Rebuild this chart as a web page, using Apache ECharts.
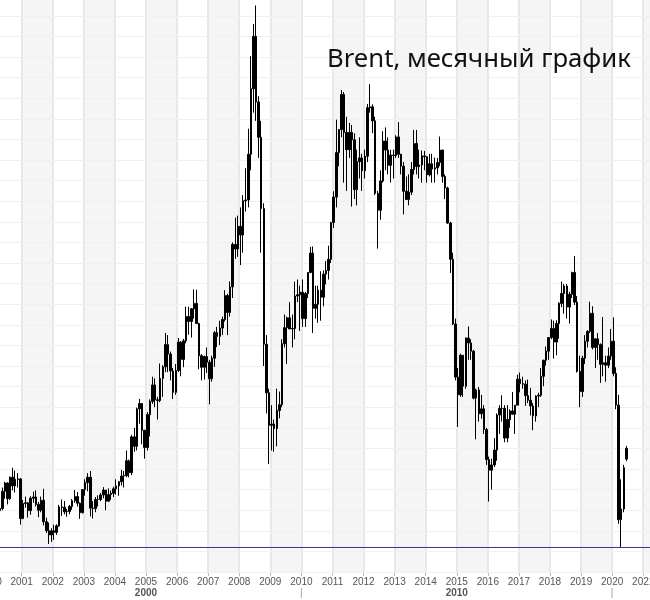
<!DOCTYPE html>
<html><head><meta charset="utf-8">
<script src="https://cdn.jsdelivr.net/npm/echarts@6/dist/echarts.min.js"></script>
<style>html,body{margin:0;padding:0;background:#fff}#c{width:650px;height:600px}</style>
</head><body><div id="c"></div>
<script>
// Brent monthly candles, each entry [open, close, low, high]
const brent2000 = [[24.5,27.6,23.2,28.0],[27.6,29.6,26.8,30.5],[29.6,24.9,24.0,32.2],[24.9,25.4,21.9,25.9],[25.4,29.6,25.0,30.5],[29.6,31.6,27.8,31.9],[31.6,27.8,26.4,31.8],[27.8,33.0,27.5,33.2],[33.0,30.9,29.8,35.3],[30.9,32.5,29.3,34.6],[32.5,32.6,30.5,34.0],[32.6,23.0,21.5,32.8]];
const brent2001 = [[23.0,26.6,22.8,27.5],[26.6,26.8,25.6,28.3],[26.8,24.9,23.2,27.0],[24.9,27.9,23.9,28.4],[27.9,28.2,26.8,29.5],[28.2,26.4,25.9,29.8],[26.4,25.0,23.3,27.0],[25.0,27.4,24.5,28.3],[27.4,22.2,21.3,30.2],[22.2,20.0,19.5,23.2],[20.0,19.0,16.8,22.0],[19.0,20.0,17.3,20.6]];
const brent2002 = [[20.0,19.6,17.8,21.5],[19.6,21.2,19.0,21.6],[21.2,25.8,21.0,26.3],[25.8,25.7,23.6,27.6],[25.7,24.6,24.0,27.2],[24.6,24.7,23.4,25.3],[24.7,25.9,24.0,26.3],[25.9,27.3,25.1,27.7],[27.3,28.3,26.8,29.9],[28.3,26.7,25.9,29.4],[26.7,24.4,22.9,26.9],[24.4,30.0,24.2,30.0]];
const brent2003 = [[30.0,31.7,28.5,32.5],[31.7,33.0,29.6,34.0],[33.0,25.5,23.5,34.5],[25.5,25.4,23.0,27.2],[25.4,27.6,24.5,28.2],[27.6,27.6,25.9,28.6],[27.6,28.7,27.2,29.2],[28.7,29.9,27.9,30.6],[29.9,27.2,25.0,29.9],[27.2,28.8,27.0,30.3],[28.8,29.1,27.5,29.8],[29.1,30.2,28.2,30.7]];
const brent2004 = [[30.2,30.9,28.8,32.5],[30.9,31.9,28.5,32.1],[31.9,33.3,31.0,34.8],[33.3,33.4,30.5,34.5],[33.4,37.0,33.0,39.5],[37.0,34.1,33.0,37.3],[34.1,42.8,33.5,43.3],[42.8,40.5,39.2,45.0],[40.5,49.6,39.5,49.9],[49.6,50.9,46.0,52.0],[50.9,44.4,41.0,51.0],[44.4,40.2,37.5,44.5]];
const brent2005 = [[40.2,48.2,39.5,48.8],[48.2,51.4,42.9,51.9],[51.4,55.4,50.8,57.4],[55.4,51.8,50.0,57.0],[51.8,51.6,47.0,52.5],[51.6,57.0,51.2,60.6],[57.0,59.8,52.5,60.2],[59.8,65.2,58.5,68.0],[65.2,62.9,58.5,67.5],[62.9,58.8,56.5,63.5],[58.8,53.6,52.0,59.5],[53.6,58.9,53.0,60.5]];
const brent2006 = [[58.9,65.8,58.5,66.8],[65.8,61.6,57.5,66.0],[61.6,66.1,59.7,66.6],[66.1,72.0,65.5,74.4],[72.0,70.8,67.6,74.4],[70.8,73.9,66.9,74.0],[73.9,75.2,71.5,78.6],[75.2,70.3,70.2,78.5],[70.3,62.5,59.2,70.5],[62.5,59.7,56.5,62.9],[59.7,62.3,56.7,62.5],[62.3,60.9,58.3,64.5]];
const brent2007 = [[60.9,56.9,50.7,61.5],[56.9,61.9,56.2,62.5],[61.9,68.1,59.8,68.5],[68.1,67.2,64.6,69.5],[67.2,69.2,65.1,71.0],[69.2,71.3,67.5,72.0],[71.3,77.1,70.8,78.4],[77.1,73.0,67.5,77.5],[73.0,79.2,72.0,80.5],[79.2,89.5,76.5,90.0],[89.5,88.4,86.0,96.0],[88.4,93.9,86.5,96.5]];
const brent2008 = [[93.9,91.8,84.5,98.5],[91.8,100.1,87.5,101.5],[100.1,100.3,97.5,108.0],[100.3,111.4,98.5,117.6],[111.4,127.3,107.5,135.2],[127.3,140.0,121.5,143.0],[140.0,124.1,119.5,147.5],[124.1,115.5,110.5,125.5],[115.5,98.2,87.5,119.5],[98.2,65.3,60.0,99.5],[65.3,53.5,48.5,67.5],[53.5,45.6,36.2,54.5]];
const brent2009 = [[45.6,45.9,39.5,50.5],[45.9,44.8,39.2,47.0],[44.8,49.2,40.5,54.5],[49.2,50.6,47.3,53.8],[50.6,65.4,50.0,66.5],[65.4,69.3,64.5,72.5],[69.3,71.7,60.5,72.0],[71.7,69.0,69.0,75.5],[69.0,69.1,64.5,72.5],[69.1,77.0,66.5,80.5],[77.0,77.3,75.5,81.0],[77.3,77.9,68.5,79.5]];
const brent2010 = [[77.9,71.5,69.5,81.0],[71.5,77.6,69.5,78.0],[77.6,82.7,76.5,82.7],[82.7,87.4,82.5,88.9],[87.4,74.0,68.0,89.0],[74.0,75.0,71.5,79.5],[75.0,78.4,70.5,79.5],[78.4,76.7,71.0,83.0],[76.7,82.3,74.5,83.2],[82.3,83.2,79.8,85.5],[83.2,85.9,81.0,89.2],[85.9,94.8,85.0,95.0]];
const brent2011 = [[94.8,101.0,93.5,102.4],[101.0,111.8,98.5,119.8],[111.8,117.4,108.5,117.5],[117.4,125.9,115.5,127.0],[125.9,116.7,104.5,126.5],[116.7,112.5,102.5,120.5],[112.5,116.7,110.5,119.0],[116.7,114.9,98.7,118.5],[114.9,102.8,100.5,116.5],[102.8,109.6,99.0,112.5],[109.6,110.5,105.5,115.5],[110.5,107.4,102.5,111.5]];
const brent2012 = [[107.4,110.9,105.5,112.5],[110.9,122.7,109.5,123.6],[122.7,122.9,121.5,128.4],[122.9,119.5,116.5,123.5],[119.5,101.9,101.5,120.5],[101.9,97.8,88.5,102.5],[97.8,104.9,95.5,107.5],[104.9,114.6,104.5,117.0],[114.6,112.4,107.5,117.9],[112.4,108.7,106.5,115.5],[108.7,111.2,104.5,112.5],[111.2,111.1,105.5,112.5]];
const brent2013 = [[111.1,115.6,110.5,116.0],[115.6,111.4,110.5,119.2],[111.4,108.5,106.5,111.5],[108.5,102.4,96.8,109.5],[102.4,100.4,100.5,106.0],[100.4,102.2,99.0,106.5],[102.2,107.7,101.5,109.5],[107.7,114.0,106.5,117.3],[114.0,108.4,106.5,117.3],[108.4,108.8,105.5,112.5],[108.8,111.0,104.5,112.3],[111.0,110.8,107.5,112.2]];
const brent2014 = [[110.8,106.4,104.5,110.9],[106.4,109.1,106.0,111.5],[109.1,107.8,104.5,111.5],[107.8,108.1,104.5,110.6],[108.1,109.4,106.5,110.5],[109.4,112.4,108.5,115.7],[112.4,106.0,104.5,112.5],[106.0,103.2,100.5,106.5],[103.2,94.7,94.5,103.5],[94.7,85.9,82.6,95.0],[85.9,70.2,70.0,87.5],[70.2,57.3,56.5,71.5]];
const brent2015 = [[57.3,53.0,45.2,59.5],[53.0,62.6,52.5,63.0],[62.6,55.1,52.5,62.7],[55.1,66.8,54.5,66.9],[66.8,65.6,61.5,69.6],[65.6,63.6,61.5,66.5],[63.6,52.2,51.9,63.9],[52.2,54.2,42.2,54.5],[54.2,48.4,46.5,54.9],[48.4,49.6,47.2,53.0],[49.6,44.6,43.5,50.5],[44.6,37.3,36.0,45.0]];
const brent2016 = [[37.3,34.7,27.1,38.0],[34.7,36.0,30.0,37.5],[36.0,39.6,35.5,42.5],[39.6,48.1,37.0,48.5],[48.1,49.7,43.5,50.5],[49.7,49.7,46.5,52.9],[49.7,42.5,41.5,50.5],[42.5,47.0,41.5,50.5],[47.0,49.1,45.0,49.5],[49.1,48.3,48.5,53.7],[48.3,50.5,43.5,50.5],[50.5,56.8,50.5,57.9]];
const brent2017 = [[56.8,55.7,53.6,58.4],[55.7,55.6,54.5,57.4],[55.6,52.8,50.3,56.5],[52.8,51.7,51.0,56.7],[51.7,50.3,48.0,54.7],[50.3,47.9,44.4,51.0],[47.9,52.7,46.5,52.9],[52.7,52.9,50.0,53.5],[52.9,57.5,52.5,59.5],[57.5,61.4,55.1,61.5],[61.4,63.6,60.1,64.7],[63.6,66.9,61.5,67.0]];
const brent2018 = [[66.9,69.1,66.5,71.3],[69.1,65.8,61.8,71.0],[65.8,70.3,62.6,71.1],[70.3,75.2,66.6,75.5],[75.2,77.6,74.3,80.5],[77.6,79.4,72.7,79.9],[79.4,74.3,71.5,79.9],[74.3,77.4,70.3,78.0],[77.4,82.7,76.5,82.9],[82.7,75.5,74.8,86.7],[75.5,58.7,58.4,77.0],[58.7,53.8,50.0,62.5]];
const brent2019 = [[53.8,61.9,52.5,62.5],[61.9,66.0,60.5,67.5],[66.0,68.4,64.5,68.7],[68.4,72.8,68.0,75.6],[72.8,64.5,64.0,74.5],[64.5,66.6,59.5,66.5],[66.6,65.2,61.5,68.0],[65.2,60.4,55.9,65.5],[60.4,60.8,57.5,71.9],[60.8,60.2,56.2,62.5],[60.2,62.4,59.5,64.5],[62.4,66.0,61.5,69.0]];
const brent2020 = [[66.0,58.2,57.5,71.8],[58.2,50.5,49.5,59.7],[50.5,22.7,21.7,53.0],[22.7,25.3,16.0,32.5],[25.3,35.3,24.5,36.0],[37.4,40.0,36.9,40.6]];
const allYears = [brent2000,brent2001,brent2002,brent2003,brent2004,brent2005,brent2006,brent2007,brent2008,brent2009,brent2010,brent2011,brent2012,brent2013,brent2014,brent2015,brent2016,brent2017,brent2018,brent2019,brent2020];

const firstYear = 2000, lastYear = 2021, lastMonthOfAxis = 3; // axis runs Jan 2000 .. Mar 2021
const axisStartYear = 2000, axisEndYear = 2021.25;
const decadeLabels = {2005: '2000', 2015: '2010'};
const decadeMarks = [2010, 2020];
const lowLine = 15.95; // blue horizontal line level (2020 low)
const titleText = 'Brent, месячный график';

const months = [];
for (let y = firstYear; y <= lastYear; y++) {
  for (let m = 1; m <= 12; m++) {
    if (y === lastYear && m > lastMonthOfAxis) break;
    months.push(y + '-' + (m < 10 ? '0' + m : m));
  }
}
const candles = [].concat(...allYears);
while (candles.length < months.length) candles.push('-');

const chart = echarts.init(document.getElementById('c'), null, {renderer: 'canvas'});
chart.setOption({
  animation: false,
  backgroundColor: '#fff',
  title: {
    text: titleText, left: 327, top: 47, padding: 0,
    textStyle: {fontFamily: 'Noto Sans', fontSize: 25.7, fontWeight: 'normal', color: '#111'}
  },
  grid: {left: -9.4, top: -4.8, width: 660.4, height: 576.8, containLabel: false, outerBoundsMode: 'none'},
  xAxis: [
    {type: 'category', data: months, boundaryGap: true, show: false, position: 'bottom'},
    {type: 'value', min: axisStartYear, max: axisEndYear, interval: 1, position: 'bottom', z: 0,
     axisLine: {show: false},
     axisTick: {show: true, length: 4, lineStyle: {color: '#bbb'}},
     axisLabel: {
       margin: 5, fontFamily: 'Liberation Sans', fontSize: 10, color: '#555',
       formatter: function (v) {
         let s = '{y|' + v + '}';
         if (decadeLabels[v]) s += '\n{d|' + decadeLabels[v] + '}';
         else if (decadeMarks.indexOf(v) >= 0) s += '\n{s||}';
         return s;
       },
       rich: {
         y: {fontFamily: 'Liberation Sans', fontSize: 10, color: '#555', lineHeight: 11},
         d: {fontFamily: 'Liberation Sans', fontSize: 10, fontWeight: 'bold', color: '#555', lineHeight: 11},
         s: {fontFamily: 'Liberation Sans', fontSize: 10, color: '#999', lineHeight: 11}
       }
     },
     splitLine: {show: true, lineStyle: {color: '#e8e8e8', width: 2}},
     splitArea: {show: true, areaStyle: {color: ['rgba(255,255,255,0)', '#f5f5f5']}}
    }
  ],
  yAxis: {type: 'value', min: 10, max: 150, interval: 5, z: 1,
    axisLine: {show: false}, axisTick: {show: false}, axisLabel: {show: false},
    splitLine: {show: true, lineStyle: {color: '#f0f0f0', width: 1}}},
  series: [
    {type: 'line', xAxisIndex: 1, data: [[axisStartYear, lowLine], [axisEndYear, lowLine]],
     silent: true, symbol: 'none', z: 4, color: '#3434b0',
     lineStyle: {color: '#3434b0', width: 1, type: 'solid'}},
    {type: 'candlestick', xAxisIndex: 0, data: candles, barWidth: 2, z: 3,
     itemStyle: {color: '#000', color0: '#000', borderColor: '#000', borderColor0: '#000', borderWidth: 1}
    }
  ]
});
</script></body></html>
